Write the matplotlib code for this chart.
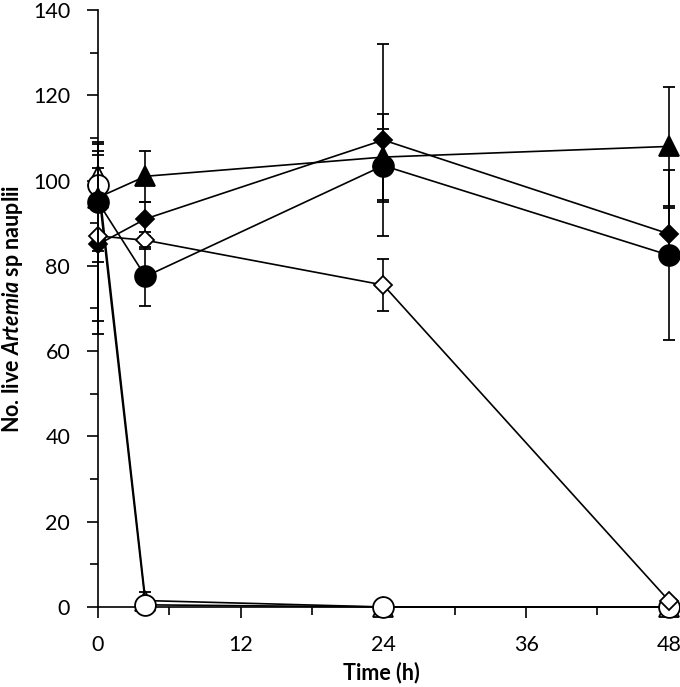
import matplotlib.pyplot as plt

plt.rcParams['font.family'] = ['Lato', 'DejaVu Sans']
plt.rcParams['mathtext.fontset'] = 'custom'
plt.rcParams['mathtext.it'] = 'Lato:italic:bold'
plt.rcParams['mathtext.rm'] = 'Lato:bold'

time_h = [0, 4, 24, 48]

# filled triangle
tri_f = [96, 101, 105.5, 108]
tri_f_err = [12.5, 6, 10, 14]
# filled diamond
dia_f = [85, 91, 109.5, 87.5]
dia_f_err = [21, 4, 22.5, 6]
# filled circle
cir_f = [95, 77.5, 103.5, 82.5]
cir_f_err = [14, 7, 8.5, 20]
# open diamond
dia_o = [87, 86, 75.5, 1.5]
dia_o_err = [20, 2, 6, 0.5]
# open triangle
tri_o = [101, 1.5, 0, 0]
tri_o_err = [2, 2, 0, 0]
# open circle
cir_o = [99, 0.5, 0, 0]
cir_o_err = [1.5, 0.5, 0, 0]

fig = plt.figure(figsize=(6.8, 6.87), dpi=100)
ax = fig.add_axes([0.144, 0.1165, 0.85, 0.869])

series = [
    (tri_o, tri_o_err, '^', 'white', 14),
    (cir_o, cir_o_err, 'o', 'white', 15),
    (dia_f, dia_f_err, 'D', 'black', 9.5),
    (dia_o, dia_o_err, 'D', 'white', 9.5),
    (cir_f, cir_f_err, 'o', 'black', 15),
    (tri_f, tri_f_err, '^', 'black', 14),
]

for i, (vals, err, mk, fc, ms) in enumerate(series):
    ax.errorbar(time_h, vals, yerr=err, color='black', lw=1.2, elinewidth=1.2,
                capsize=4.5, capthick=1.2, marker=mk, ms=ms, mfc=fc, mec='black',
                mew=1.3, zorder=3 + i, clip_on=False)

ax.set_xlim(0, 48.6)
ax.set_ylim(0, 140)
ax.set_xticks([0, 12, 24, 36, 48])
ax.set_xticks([6, 18, 30, 42], minor=True)
ax.set_yticks(range(0, 141, 20))
ax.set_yticks(range(10, 140, 20), minor=True)
ax.tick_params(axis='both', which='major', length=8, width=1.2, labelsize=15.5)
ax.tick_params(axis='y', which='major', pad=12)
ax.tick_params(axis='x', which='major', pad=12)
ax.tick_params(axis='both', which='minor', length=6, width=1.2)

for s in ['top', 'right']:
    ax.spines[s].set_visible(False)
for s in ['left', 'bottom']:
    ax.spines[s].set_linewidth(1.2)

ax.set_xlabel('Time (h)', fontsize=15.5, fontweight='bold')
ax.xaxis.set_label_coords(0.491, -0.092)
ax.set_ylabel(r'No. live $\mathit{Artemia}$ sp nauplii', fontsize=15.5,
              fontweight='bold')
ax.yaxis.set_label_coords(-0.126, 0.5)

fig.savefig('out.png', dpi=100)
